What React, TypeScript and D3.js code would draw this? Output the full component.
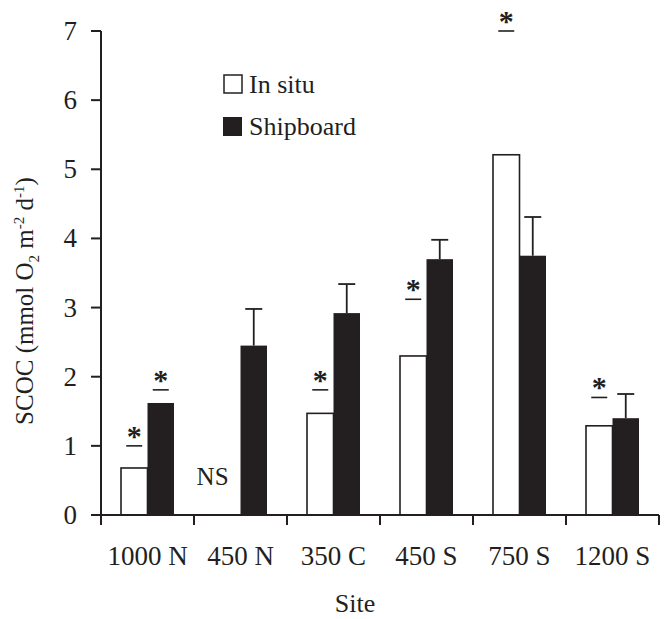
import React from "react";
import * as d3 from "d3";

const sites = ["1000 N", "450 N", "350 C", "450 S", "750 S", "1200 S"];
const inSitu: (number | null)[] = [0.68, null, 1.47, 2.3, 5.21, 1.29];
const shipboard = [1.62, 2.45, 2.92, 3.7, 3.75, 1.4];
const shipboardErr = [null, 2.98, 3.34, 3.98, 4.31, 1.75];
// significance markers: [site index, series, y level of underline]
const sigMarks: [number, "in" | "ship", number][] = [
  [0, "in", 1.0],
  [0, "ship", 1.81],
  [2, "in", 1.81],
  [3, "in", 3.12],
  [4, "in", 7.0],
  [5, "in", 1.7],
];
const nsMarks: [number, string][] = [[1, "NS"]];
const yTicks = [0, 1, 2, 3, 4, 5, 6, 7];

const W = 668, H = 619;
const FONT = "'Liberation Serif', 'Times New Roman', serif";
const INK = "#231f20";

export default function App() {
  const x = d3.scaleBand<string>().domain(sites).range([101, 659]).padding(0);
  const y = d3.scaleLinear().domain([0, 7]).range([515, 31]);
  const bw = x.bandwidth();
  const inner = d3.scaleBand<string>().domain(["in", "ship"]).range([bw / 2 - 26.5, bw / 2 + 26.5]).padding(0);
  const ib = inner.bandwidth();
  const boundaries = sites.map((s) => (x(s) as number) + bw).concat([x(sites[0]) as number]);

  return (
    <svg width={W} height={H} style={{ position: "absolute", left: 0, top: 0, background: "#fff" }} fontFamily={FONT}>
      {/* bars */}
      {sites.map((s, i) => {
        const x0 = x(s) as number;
        const v1 = inSitu[i];
        const v2 = shipboard[i];
        const e = shipboardErr[i];
        const cx2 = x0 + (inner("ship") as number) + ib / 2;
        return (
          <g key={s}>
            {e != null && (
              <g stroke={INK} strokeWidth={1.8}>
                <line x1={cx2} x2={cx2} y1={y(v2)} y2={y(e)} />
                <line x1={cx2 - 8.5} x2={cx2 + 8.5} y1={y(e)} y2={y(e)} />
              </g>
            )}
            {v1 != null && (
              <rect x={x0 + (inner("in") as number)} y={y(v1)} width={ib} height={y(0) - y(v1)} fill="#fff" stroke={INK} strokeWidth={1.6} />
            )}
            <rect x={x0 + (inner("ship") as number)} y={y(v2)} width={ib} height={y(0) - y(v2)} fill={INK} />
          </g>
        );
      })}
      {/* significance */}
      {sigMarks.map(([i, ser, lv], k) => {
        const cx = (x(sites[i]) as number) + (inner(ser) as number) + ib / 2;
        const yy = y(lv);
        return (
          <g key={k}>
            <line x1={cx - 8} x2={cx + 8} y1={yy} y2={yy} stroke={INK} strokeWidth={1.6} />
            <text x={cx} y={yy} textAnchor="middle" fontSize={30} fontWeight="bold" fill={INK}>*</text>
          </g>
        );
      })}
      {nsMarks.map(([i, t]) => (
        <text key={t + i} x={(x(sites[i]) as number) + bw * 0.2} y={485} textAnchor="middle" fontSize={25} fill={INK}>{t}</text>
      ))}
      {/* axes */}
      <line x1={101} x2={101} y1={y(7)} y2={y(0)} stroke={INK} strokeWidth={2} />
      <line x1={101} x2={659} y1={y(0)} y2={y(0)} stroke={INK} strokeWidth={2} />
      {yTicks.map((t) => (
        <g key={t}>
          <line x1={91} x2={101} y1={y(t)} y2={y(t)} stroke={INK} strokeWidth={2} />
          <text x={77} y={y(t) + 9} textAnchor="end" fontSize={27} fill={INK}>{t}</text>
        </g>
      ))}
      {boundaries.map((b, k) => (
        <line key={k} x1={b} x2={b} y1={y(0)} y2={y(0) + 10} stroke={INK} strokeWidth={2} />
      ))}
      {sites.map((s) => (
        <text key={s} x={(x(s) as number) + bw / 2} y={565} textAnchor="middle" fontSize={27} fill={INK}>{s}</text>
      ))}
      <text x={355} y={612} textAnchor="middle" fontSize={26} fill={INK}>Site</text>
      <text transform="translate(33,301) rotate(-90)" textAnchor="middle" fontSize={25} fill={INK}>
        SCOC (mmol O<tspan fontSize={15} dy={6}>2</tspan>
        <tspan dy={-6}> m</tspan><tspan fontSize={15} dy={-9}>-2</tspan>
        <tspan dy={9}> d</tspan><tspan fontSize={15} dy={-9}>-1</tspan>
        <tspan dy={9}>)</tspan>
      </text>
      {/* legend */}
      <rect x={224} y={75} width={18} height={18} fill="#fff" stroke={INK} strokeWidth={1.5} />
      <text x={249} y={93} fontSize={26} fill={INK}>In situ</text>
      <rect x={223} y={117} width={19} height={19} fill={INK} />
      <text x={249} y={135} fontSize={26} fill={INK}>Shipboard</text>
    </svg>
  );
}
